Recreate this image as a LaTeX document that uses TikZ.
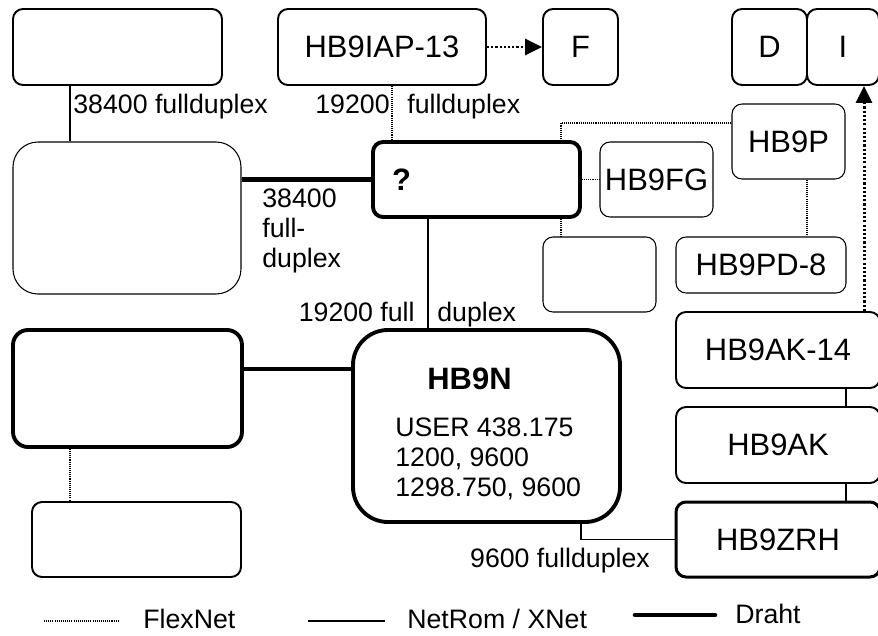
\documentclass[tikz,border=0pt]{standalone}
\usepackage{fontspec}
\setmainfont{Liberation Sans}
\usepackage{tikz}
\usetikzlibrary{arrows.meta}
\tikzset{
	box/.style = {draw, rounded corners=0.2cm, line width=1.1pt, inner sep=0pt, font=\fontsize{17.6}{21}\selectfont},
	thinbox/.style = {box, line width=0.6pt},
	fatbox/.style = {box, line width=2.2pt},
	lbl/.style = {inner sep=0pt, font=\fontsize{15.2}{17.1}\selectfont},
	netrom/.style = {line width=1.1pt},
	draht/.style = {line width=2.6pt},
	flexnet/.style = {line width=0.7pt, dash pattern=on 0.6pt off 0.6pt},
	fwd/.style = {line width=1.7pt, dash pattern=on 1.2pt off 1.2pt, -{Triangle[length=0.34cm,width=0.32cm]}}
}

\begin{document}
\begin{tikzpicture}
	\useasboundingbox (0cm,0cm) rectangle (17.56cm,-12.7cm);
	% obere Reihe
	\node [box, minimum width=4.18cm, minimum height=1.52cm] (TL) at (2.35cm,-0.94cm) {};
	\node [box, minimum width=4.16cm, minimum height=1.52cm] (IAP) at (7.64cm,-0.94cm) {HB9IAP-13};
	\node [box, minimum width=1.5cm, minimum height=1.52cm] (F) at (11.61cm,-0.94cm) {F};
	\node [box, minimum width=1.5cm, minimum height=1.52cm] (D) at (15.39cm,-0.94cm) {D};
	\node [box, minimum width=1.44cm, minimum height=1.52cm] (I) at (16.86cm,-0.94cm) {I};
	% mitte
	\node [thinbox, rounded corners=0.5cm, minimum width=4.56cm, minimum height=3.04cm] (L) at (2.54cm,-4.36cm) {};
	\node [fatbox, minimum width=4.14cm, minimum height=1.5cm, inner xsep=0.38cm, text width=3.38cm, align=left,
		font=\fontsize{17.6}{21}\selectfont\bfseries] (Q) at (9.53cm,-3.59cm) {?};
	\node [thinbox, minimum width=2.26cm, minimum height=1.5cm] (FG) at (13.13cm,-3.59cm) {HB9FG};
	\node [thinbox, minimum width=2.26cm, minimum height=1.5cm] (P) at (15.77cm,-2.83cm) {HB9P};
	\node [thinbox, minimum width=2.26cm, minimum height=1.5cm] (S) at (11.99cm,-5.49cm) {};
	\node [thinbox, minimum width=3.4cm, minimum height=1.12cm] (PD) at (15.22cm,-5.3cm) {HB9PD-8};
	% unten
	\node [fatbox, rounded corners=0.3cm, minimum width=4.58cm, minimum height=2.34cm] (W) at (2.55cm,-7.77cm) {};
	\node [box, minimum width=4.18cm, minimum height=1.5cm] (B) at (2.73cm,-10.79cm) {};
	\node [fatbox, rounded corners=0.7cm, minimum width=5.34cm, minimum height=3.84cm] (N) at (9.73cm,-8.52cm) {};
	\node [inner sep=0pt, font=\fontsize{17.6}{21}\selectfont\bfseries] (Nname) at (9.39cm,-7.57cm) {HB9N};
	\node [lbl, align=left, anchor=north west] (Ninfo) at (7.9cm,-8.34cm) {USER 438.175\\1200, 9600\\1298.750, 9600};
	\node [box, minimum width=4.08cm, minimum height=1.52cm] (AKV) at (15.56cm,-7cm) {HB9AK-14};
	\node [box, minimum width=4.08cm, minimum height=1.52cm] (AK) at (15.56cm,-8.9cm) {HB9AK};
	\node [box, line width=1.7pt, minimum width=4.08cm, minimum height=1.5cm] (ZRH) at (15.56cm,-10.79cm) {HB9ZRH};
	% Verbindungen
	\coordinate (xl) at (1.4cm,0cm);
	\coordinate (xi) at (7.84cm,0cm);
	\coordinate (xq) at (8.56cm,0cm);
	\coordinate (xs) at (11.22cm,0cm);
	\coordinate (xp) at (16.14cm,0cm);
	\coordinate (xk) at (16.92cm,0cm);
	\coordinate (xa) at (17.28cm,0cm);
	\coordinate (xn) at (11.62cm,0cm);
	\coordinate (yp) at (0cm,-2.46cm);
	\coordinate (yl) at (0cm,-7.38cm);
	\draw [netrom] (TL.south -| xl) -- (L.north -| xl);
	\draw [flexnet] (IAP.south -| xi) -- (Q.north -| xi);
	\draw [fwd] (IAP.east) -- (F.west);
	\draw [draht] (Q.west -| L.east) -- (Q.west);
	\draw [flexnet] (Q.east) -- (FG.west);
	\draw [flexnet] (P.west |- yp) -| (Q.north -| xs);
	\draw [flexnet] (Q.south -| xs) -- (S.north -| xs);
	\draw [flexnet] (P.south -| xp) -- (PD.north -| xp);
	\draw [netrom] (Q.south -| xq) -- (N.north -| xq);
	\draw [draht] (W.east |- yl) -- (N.west |- yl);
	\draw [flexnet] (W.south -| xl) -- (B.north -| xl);
	\draw [netrom] (N.south -| xn) |- (ZRH.west);
	\draw [netrom] (AKV.south -| xk) -- (AK.north -| xk);
	\draw [netrom] (AK.south -| xk) -- (ZRH.north -| xk);
	\draw [fwd] (AKV.north -| xa) -- (I.south -| xa);
	% Beschriftungen
	\node [lbl, anchor=base west] (l1) at (1.46cm,-2.26cm) {38400 fullduplex};
	\node [lbl, anchor=base east] (l2) at (7.8cm,-2.26cm) {19200};
	\node [lbl, anchor=base west] (l3) at (8.14cm,-2.26cm) {fullduplex};
	\node [lbl, align=left, anchor=north west] (l4) at (5.24cm,-3.76cm) {38400\\full-\\duplex};
	\node [lbl, anchor=base east] (l5) at (8.3cm,-6.42cm) {19200 full};
	\node [lbl, anchor=base west] (l6) at (8.74cm,-6.42cm) {duplex};
	\node [lbl, anchor=base] (l7) at (11.2cm,-11.34cm) {9600 fullduplex};
	% Legende
	\node [lbl, anchor=base west] (g1) at (2.86cm,-12.56cm) {FlexNet};
	\node [lbl, anchor=base west] (g2) at (8.14cm,-12.56cm) {NetRom / XNet};
	\node [lbl, anchor=base west] (g3) at (14.7cm,-12.46cm) {Draht};
	\draw [flexnet] ([xshift=-1.98cm,yshift=0.14cm]g1.base west) -- ([xshift=-0.48cm,yshift=0.14cm]g1.base west);
	\draw [netrom] ([xshift=-1.98cm,yshift=0.14cm]g2.base west) -- ([xshift=-0.44cm,yshift=0.14cm]g2.base west);
	\draw [draht, line cap=round] ([xshift=-2.0cm,yshift=0.16cm]g3.base west) -- ([xshift=-0.4cm,yshift=0.16cm]g3.base west);
\end{tikzpicture}
\end{document}
